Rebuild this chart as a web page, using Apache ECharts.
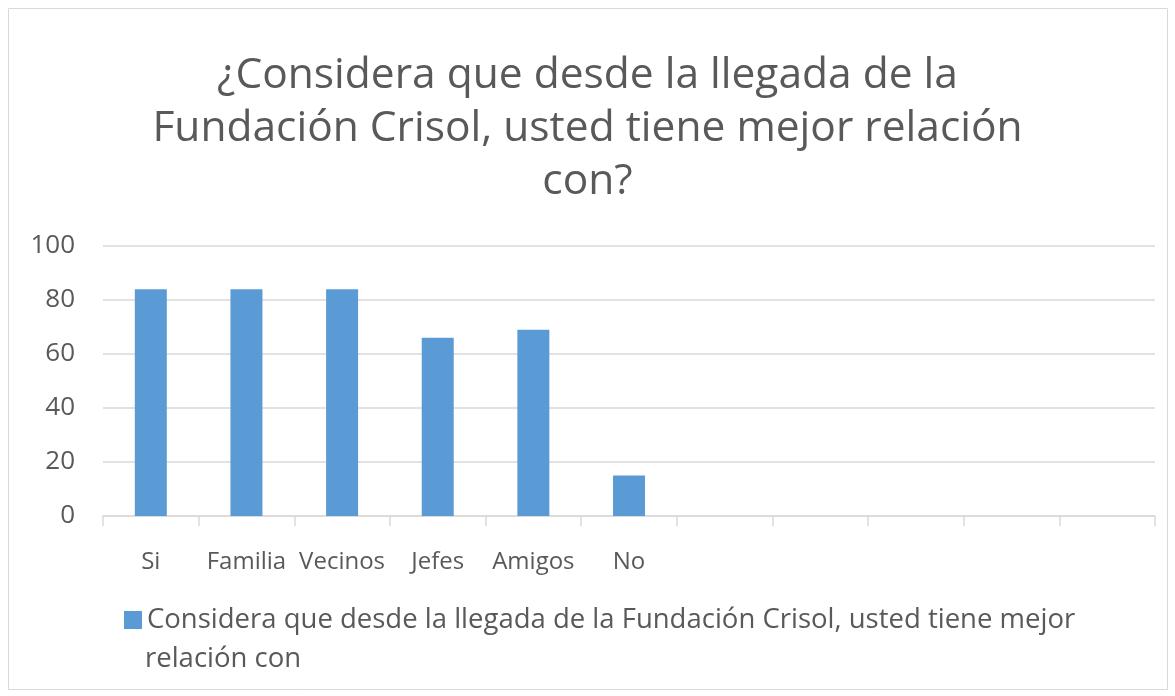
<!DOCTYPE html>
<html><head><meta charset="utf-8">
<script src="https://cdn.jsdelivr.net/npm/echarts@6/dist/echarts.min.js"></script>
<style>html,body{margin:0;padding:0;background:#fff}#c{width:1175px;height:696px}</style>
</head><body><div id="c"></div>
<script>
const categories = ['Si','Familia','Vecinos','Jefes','Amigos','No','','','','',''];
const values = [84,84,84,66,69,15,null,null,null,null,null];
const seriesName = 'Considera que desde la llegada de la Fundación Crisol, usted tiene mejor relación con';
const legendLine1 = 'Considera que desde la llegada de la Fundación Crisol, usted tiene mejor';
const legendLine2 = 'relación con';
const titleText = '¿Considera que desde la llegada de la\nFundación Crisol, usted tiene mejor relación\ncon?';
const yTicks = {min:0,max:100,interval:20};

const FONT = "'Open Sans','Noto Sans',sans-serif";
const chart = echarts.init(document.getElementById('c'));
chart.setOption({
  animation:false,
  textStyle:{fontFamily:FONT,color:'#595959'},
  title:{text:titleText,left:'center',top:44,textStyle:{fontFamily:FONT,fontSize:42.5,fontWeight:'normal',color:'#595959',lineHeight:53}},
  graphic:[
    {type:'rect',shape:{x:8.5,y:8.5,width:1159,height:681},style:{fill:'none',stroke:'#d9d9d9',lineWidth:1},silent:true},
    {type:'text',left:145,top:645,style:{text:legendLine2,fontFamily:FONT,fontSize:27.5,fill:'#595959'},silent:true}
  ],
  grid:{left:103,right:20,top:246,bottom:180},
  legend:{left:119,top:601,icon:'rect',itemWidth:18,itemHeight:18,itemGap:8,
    formatter:function(){return legendLine1;},
    textStyle:{fontFamily:FONT,fontSize:27.5,color:'#595959'}},
  xAxis:{type:'category',data:categories,
    axisLine:{lineStyle:{color:'#d9d9d9',width:1.5}},
    axisTick:{show:true,length:10,lineStyle:{color:'#d9d9d9',width:1.5}},
    axisLabel:{fontFamily:FONT,fontSize:24,color:'#595959',margin:34,interval:0}},
  yAxis:{type:'value',min:yTicks.min,max:yTicks.max,interval:yTicks.interval,
    axisLine:{show:false},axisTick:{show:false},
    splitLine:{lineStyle:{color:'#d9d9d9',width:1.5}},
    axisLabel:{fontFamily:FONT,fontSize:26,color:'#595959',margin:28}},
  series:[{name:seriesName,type:'bar',data:values,barWidth:32,itemStyle:{color:'#5b9bd5'}}]
});
</script></body></html>
